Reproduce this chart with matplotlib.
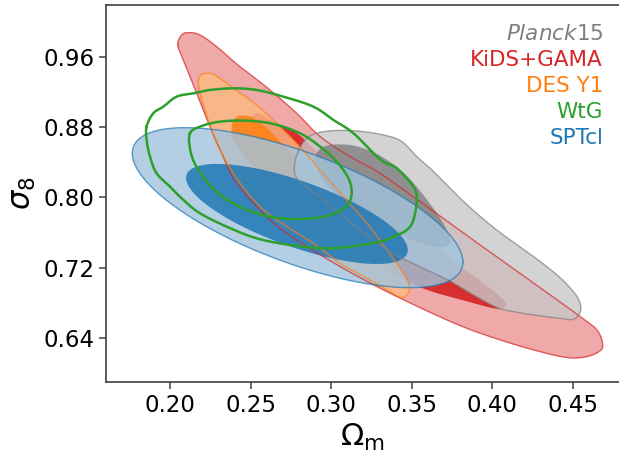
import numpy as np
import matplotlib
matplotlib.use("Agg")
import matplotlib.pyplot as plt

# contours, (Omega_m, sigma_8) pairs
kids_out_om = [0.2048, 0.2073, 0.2114, 0.2186, 0.2290, 0.2414, 0.2600, 0.2787, 0.2932, 0.3118, 0.3304,
               0.3615, 0.3925, 0.4236, 0.4547, 0.4650, 0.4685, 0.4671, 0.4588, 0.4464, 0.4257, 0.4050,
               0.3843, 0.3636, 0.3325, 0.3056, 0.2787, 0.2621, 0.2414, 0.2331, 0.2248, 0.2166, 0.2083]
kids_out_s8 = [0.9741, 0.9855, 0.9882, 0.9855, 0.9722, 0.9524, 0.9258, 0.8961, 0.8695, 0.8466, 0.8276,
               0.7869, 0.7458, 0.7051, 0.6640, 0.6488, 0.6336, 0.6252, 0.6184, 0.6173, 0.6260, 0.6374,
               0.6507, 0.6671, 0.6945, 0.7211, 0.7515, 0.7744, 0.8162, 0.8466, 0.8809, 0.9189, 0.9570]
kids_in_om = [0.2497, 0.2518, 0.2559, 0.2642, 0.2787, 0.2890, 0.3056, 0.3263, 0.3470, 0.3636, 0.3780, 0.3946,
              0.4050, 0.4087, 0.4029, 0.3843, 0.3574, 0.3366, 0.3139, 0.2932, 0.2766, 0.2621, 0.2528]
kids_in_s8 = [0.8885, 0.8942, 0.8960, 0.8862, 0.8733, 0.8561, 0.8276, 0.7972, 0.7668, 0.7458, 0.7249, 0.7021,
              0.6869, 0.6774, 0.6730, 0.6815, 0.6960, 0.7154, 0.7439, 0.7782, 0.8124, 0.8466, 0.8714]

des_out_om = [0.2176, 0.2186, 0.2224, 0.2279, 0.2393, 0.2538, 0.2683, 0.2828, 0.2994, 0.3222, 0.3346, 0.3449,
              0.3487, 0.3470, 0.3429, 0.3366, 0.3222, 0.3056, 0.2890, 0.2725, 0.2559, 0.2414, 0.2290, 0.2217, 0.2182]
des_out_s8 = [0.9322, 0.9387, 0.9417, 0.9398, 0.9250, 0.9055, 0.8809, 0.8535, 0.8180, 0.7706, 0.7401, 0.7135,
              0.6983, 0.6888, 0.6861, 0.6926, 0.7078, 0.7249, 0.7477, 0.7668, 0.7896, 0.8219, 0.8619, 0.8999, 0.9227]
des_in_om = [0.2383, 0.2404, 0.2445, 0.2507, 0.2600, 0.2704, 0.2807, 0.2932, 0.3056, 0.3128, 0.3135, 0.3097,
             0.3015, 0.2849, 0.2683, 0.2538, 0.2435, 0.2389]
des_in_s8 = [0.8809, 0.8904, 0.8934, 0.8915, 0.8790, 0.8600, 0.8390, 0.8124, 0.7820, 0.7591, 0.7485, 0.7458,
             0.7534, 0.7782, 0.8048, 0.8314, 0.8543, 0.8695]

planck_out_om = [0.2772, 0.2787, 0.2839, 0.2911, 0.3014, 0.3159, 0.3325, 0.3439, 0.3532, 0.3615, 0.3698, 0.3822,
                 0.3988, 0.4112, 0.4257, 0.4402, 0.4495, 0.4542, 0.4547, 0.4505, 0.4422, 0.4257, 0.4133, 0.4029,
                 0.3863, 0.3739, 0.3553, 0.3366, 0.3159, 0.2952, 0.2828, 0.2782]
planck_out_s8 = [0.8333, 0.8485, 0.8657, 0.8733, 0.8763, 0.8759, 0.8714, 0.8638, 0.8466, 0.8333, 0.8181, 0.7953,
                 0.7687, 0.7515, 0.7325, 0.7116, 0.6945, 0.6812, 0.6697, 0.6610, 0.6621, 0.6659, 0.6697, 0.6745,
                 0.6910, 0.7045, 0.7210, 0.7380, 0.7660, 0.7972, 0.8143, 0.8238]
planck_in_om = [0.2901, 0.2921, 0.2983, 0.3097, 0.3201, 0.3315, 0.3429, 0.3522, 0.3615, 0.3694, 0.3739, 0.3718,
                0.3636, 0.3470, 0.3263, 0.3077, 0.2952]
planck_in_s8 = [0.8409, 0.8535, 0.8596, 0.8603, 0.8561, 0.8466, 0.8314, 0.8143, 0.7926, 0.7713, 0.7523, 0.7447,
                0.7439, 0.7546, 0.7744, 0.7972, 0.8181]

wtg_out_om = [0.1855, 0.1896, 0.1959, 0.2041, 0.2145, 0.2248, 0.2393, 0.2538, 0.2704, 0.2890, 0.3014, 0.3139,
              0.3304, 0.3408, 0.3511, 0.3532, 0.3511, 0.3470, 0.3387, 0.3304, 0.3118, 0.2952, 0.2745, 0.2538,
              0.2352, 0.2186, 0.2083, 0.2000, 0.1917, 0.1876, 0.1855]
wtg_out_s8 = [0.8809, 0.8961, 0.9037, 0.9151, 0.9189, 0.9227, 0.9246, 0.9227, 0.9151, 0.9037, 0.8885, 0.8733,
              0.8436, 0.8333, 0.8124, 0.7972, 0.7744, 0.7629, 0.7553, 0.7496, 0.7439, 0.7420, 0.7458, 0.7534,
              0.7667, 0.7820, 0.7972, 0.8124, 0.8276, 0.8466, 0.8657]
wtg_in_om = [0.2124, 0.2186, 0.2311, 0.2476, 0.2642, 0.2807, 0.2932, 0.3035, 0.3108, 0.3128, 0.3101, 0.3014,
             0.2890, 0.2745, 0.2600, 0.2455, 0.2331, 0.2228, 0.2155, 0.2124]
wtg_in_s8 = [0.8733, 0.8809, 0.8866, 0.8877, 0.8839, 0.8733, 0.8581, 0.8409, 0.8219, 0.8048, 0.7915, 0.7812,
             0.7763, 0.7755, 0.7789, 0.7877, 0.8002, 0.8181, 0.8383, 0.8561]

# SPTcl: centre, half-extent in Omega_m, half-extent in sigma_8, correlation
spt_out = (0.2792, 0.7884, 0.1026, 0.0913, -0.68)
spt_in = (0.2788, 0.7812, 0.0688, 0.0571, -0.72)

labels = ["$\\mathit{Planck}$15", "KiDS+GAMA", "DES Y1", "WtG", "SPTcl"]
label_colors = ["tab:gray", "tab:red", "tab:orange", "tab:green", "tab:blue"]


def ellipse(p, n=300):
    cx, cy, hx, hy, rho = p
    t = np.linspace(0, 2 * np.pi, n)
    return cx + hx * np.cos(t), cy + hy * (rho * np.cos(t) + np.sqrt(1 - rho ** 2) * np.sin(t))


def smooth(x, y, k=12):
    # closed Catmull-Rom curve through the read-off points, only for drawing
    p = np.column_stack([x, y])
    n = len(p)
    t = np.linspace(0, 1, k, endpoint=False)[:, None]
    out = []
    for i in range(n):
        p0, p1, p2, p3 = p[i - 1], p[i], p[(i + 1) % n], p[(i + 2) % n]
        out.append(0.5 * (2 * p1 + (p2 - p0) * t + (2 * p0 - 5 * p1 + 4 * p2 - p3) * t ** 2
                          + (3 * p1 - p0 - 3 * p2 + p3) * t ** 3))
    out = np.vstack(out + [p[:1]])
    return out[:, 0], out[:, 1]


def region(ax, xy, face, a, edge=None):
    ax.fill(xy[0], xy[1], facecolor=face, alpha=a, edgecolor="none")
    if edge:
        ax.plot(xy[0], xy[1], color=edge, lw=1.0, alpha=0.7)


fig = plt.figure(figsize=(6.19, 4.57), dpi=100)
ax = fig.add_axes([106 / 619, 1 - 382 / 457, 513 / 619, 377 / 457])

region(ax, smooth(kids_out_om, kids_out_s8), "#eb9494", 0.8, "tab:red")
region(ax, smooth(kids_in_om, kids_in_s8), "tab:red", 0.95)
region(ax, smooth(des_out_om, des_out_s8), "#fcba82", 0.8, "tab:orange")
region(ax, smooth(des_in_om, des_in_s8), "tab:orange", 0.83)
region(ax, smooth(planck_out_om, planck_out_s8), "#c8c8c8", 0.8, "tab:gray")
region(ax, smooth(planck_in_om, planck_in_s8), "tab:gray", 0.8)
region(ax, ellipse(spt_out), "#a1c4dd", 0.8, "tab:blue")
region(ax, ellipse(spt_in), "tab:blue", 0.85)
ax.plot(*smooth(wtg_out_om, wtg_out_s8), color="tab:green", lw=1.8)
ax.plot(*smooth(wtg_in_om, wtg_in_s8), color="tab:green", lw=1.8)

ax.set_xlim(0.1603, 0.4787)
ax.set_ylim(0.5894, 1.0197)
ax.set_xticks([0.20, 0.25, 0.30, 0.35, 0.40, 0.45])
ax.set_yticks([0.64, 0.72, 0.80, 0.88, 0.96])
ax.tick_params(labelsize=16.5, length=5, width=1.1, color="0.25")
for s in ax.spines.values():
    s.set_linewidth(1.2)
    s.set_color("0.25")
ax.spines["right"].set_visible(False)
ax.set_xlabel("$\\Omega_{\\rm m}$", fontsize=22)
ax.set_ylabel("$\\sigma_8$", fontsize=22)

for i, (lab, c) in enumerate(zip(labels, label_colors)):
    ax.text(0.969, 0.907 - 0.069 * i, lab, color=c, fontsize=15.5, ha="right", va="baseline",
            transform=ax.transAxes)

fig.savefig("out.png", dpi=100)
